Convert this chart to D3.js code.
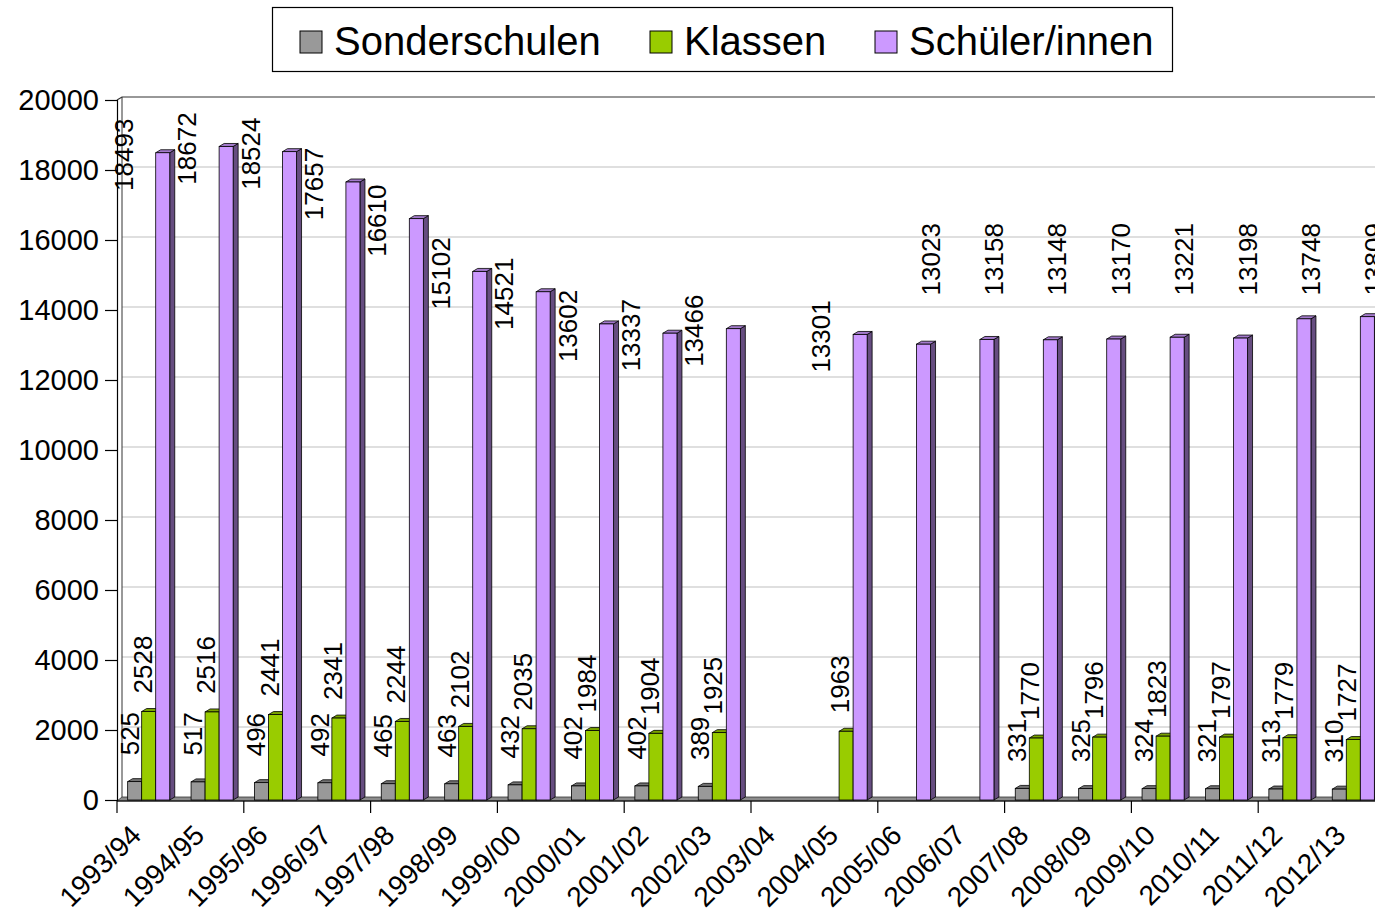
<!DOCTYPE html>
<html>
<head>
<meta charset="utf-8">
<script src="https://cdn.jsdelivr.net/npm/d3@7"></script>
<style>
  body { margin: 0; background: #fff; }
  svg { display: block; font-family: "Liberation Sans", Arial, sans-serif; }
</style>
</head>
<body>
<svg id="chart" width="1375" height="914"></svg>
<script>
// ------------------------------------------
// Data
// ------------------------------------------
const years = ["1993/94", "1994/95", "1995/96", "1996/97", "1997/98", "1998/99", "1999/00",
  "2000/01", "2001/02", "2002/03", "2003/04", "2004/05", "2005/06", "2006/07", "2007/08",
  "2008/09", "2009/10", "2010/11", "2011/12", "2012/13"]

const sonderschulen = [525, 517, 496, 492, 465, 463, 432, 402, 402, 389, null, null, null, null,
  331, 325, 324, 321, 313, 310]
const klassen = [2528, 2516, 2441, 2341, 2244, 2102, 2035, 1984, 1904, 1925, null, 1963, null, null,
  1770, 1796, 1823, 1797, 1779, 1727]
const schueler = [18493, 18672, 18524, 17657, 16610, 15102, 14521, 13602, 13337, 13466, null, 13301,
  13023, 13158, 13148, 13170, 13221, 13198, 13748, 13809]

const seriesNames = ["Sonderschulen", "Klassen", "Schüler/innen"]
const yTicks = [0, 2000, 4000, 6000, 8000, 10000, 12000, 14000, 16000, 18000, 20000]

// ------------------------------------------
// Styles
// ------------------------------------------
const colors = {
  "Sonderschulen": {front: "#999999", top: "#737373", side: "#4d4d4d"},
  "Klassen": {front: "#99cc00", top: "#7aa300", side: "#4d6600"},
  "Schüler/innen": {front: "#cc99ff", top: "#a37acc", side: "#664d80"}
}
const depth = {dx: 5, dy: -3}
const margin = {left: 117, top: 100, bottom: 800}
const step = 63.4

const svg = d3.select("#chart")

let x0 = d3.scaleBand()
  .domain(years)
  .range([margin.left, margin.left + step * years.length])
  .padding(0)

let x1 = d3.scaleBand()
  .domain(seriesNames)
  .range([0, x0.bandwidth()])
  .paddingInner(0)
  .paddingOuter(0.76)

let y = d3.scaleLinear().domain([0, 20000]).range([margin.bottom, margin.top])

const plotRight = x0.range()[1]

// back wall gridlines
svg.append("g")
  .selectAll("line")
  .data(yTicks.filter(v => v > 0 && v < 20000))
  .join("line")
  .attr("x1", margin.left + depth.dx)
  .attr("x2", plotRight + depth.dx)
  .attr("y1", d => y(d) + depth.dy)
  .attr("y2", d => y(d) + depth.dy)
  .attr("stroke", "#c0c0c0")
  .attr("stroke-width", 1.2)

// wall frame
svg.append("path")
  .attr("d", `M${margin.left},${y(20000)} L${margin.left + depth.dx},${y(20000) + depth.dy} L${plotRight + depth.dx},${y(20000) + depth.dy}`)
  .attr("fill", "none").attr("stroke", "#333").attr("stroke-width", 1.2)
svg.append("line")
  .attr("x1", margin.left + depth.dx).attr("x2", margin.left + depth.dx)
  .attr("y1", y(20000) + depth.dy).attr("y2", y(0) + depth.dy)
  .attr("stroke", "#333").attr("stroke-width", 1)

// floor
svg.append("path")
  .attr("d", `M${margin.left},${y(0) + 1} L${margin.left + depth.dx},${y(0) + depth.dy} L${plotRight + depth.dx},${y(0) + depth.dy} L${plotRight},${y(0) + 1} Z`)
  .attr("fill", "#8c8c8c").attr("stroke", "#333").attr("stroke-width", 0.8)

// ------------------------------------------
// Bars
// ------------------------------------------
const seriesValues = [sonderschulen, klassen, schueler]
let bars = []
years.forEach((year, i) => {
  seriesNames.forEach((name, s) => {
    let v = seriesValues[s][i]
    if (v !== null) bars.push({year, name, value: v, index: i})
  })
})

const barG = svg.append("g")
bars.forEach(b => {
  let bx = x0(b.year) + x1(b.name)
  let w = x1.bandwidth()
  let yt = y(b.value)
  let yb = y(0)
  let c = colors[b.name]
  let g = barG.append("g")
  g.append("path")
    .attr("d", `M${bx + w},${yt} L${bx + w + depth.dx},${yt + depth.dy} L${bx + w + depth.dx},${yb + depth.dy} L${bx + w},${yb} Z`)
    .attr("fill", c.side).attr("stroke", "#000").attr("stroke-width", 0.8)
  g.append("path")
    .attr("d", `M${bx},${yt} L${bx + depth.dx},${yt + depth.dy} L${bx + w + depth.dx},${yt + depth.dy} L${bx + w},${yt} Z`)
    .attr("fill", c.top).attr("stroke", "#000").attr("stroke-width", 0.8)
  g.append("rect")
    .attr("x", bx).attr("y", yt)
    .attr("width", w).attr("height", yb - yt)
    .attr("fill", c.front).attr("stroke", "#000").attr("stroke-width", 0.8)
})

// ------------------------------------------
// Data labels
// ------------------------------------------
function labelPosition(b) {
  let cx = x0(b.year) + x1(b.name) + x1.bandwidth() / 2
  if (b.name === "Sonderschulen") return [cx - 5, y(b.value) - 48]
  if (b.name === "Klassen") return [cx - 6, y(b.value) - 47]
  if (b.index >= 12) return [cx + 7, y(15450)]
  return [cx - 39, y(b.value) + 2]
}

svg.append("g")
  .selectAll("text")
  .data(bars)
  .join("text")
  .attr("transform", d => {
    let [lx, ly] = labelPosition(d)
    return `translate(${lx},${ly}) rotate(-90)`
  })
  .attr("text-anchor", "middle")
  .attr("dominant-baseline", "central")
  .attr("font-size", 26)
  .attr("fill", "#000")
  .text(d => d.value)

// ------------------------------------------
// Axes
// ------------------------------------------
let yAxisGroup = svg.append("g").attr("transform", `translate(${margin.left},0)`)
yAxisGroup.call(d3.axisLeft(y).tickValues(yTicks).tickSize(12).tickPadding(6).tickFormat(d3.format("d")))
yAxisGroup.select(".domain").attr("stroke", "#000").attr("stroke-width", 1.2)
yAxisGroup.selectAll(".tick line").attr("stroke", "#000").attr("stroke-width", 1.2)
yAxisGroup.selectAll(".tick text")
  .attr("font-size", 29).attr("font-family", "Liberation Sans, Arial, sans-serif").attr("fill", "#000")

// x axis: baseline with tick marks every second category
svg.append("line")
  .attr("x1", margin.left).attr("x2", plotRight)
  .attr("y1", y(0) + 1).attr("y2", y(0) + 1)
  .attr("stroke", "#000").attr("stroke-width", 1)
svg.append("g")
  .selectAll("line")
  .data(years.filter((d, i) => i % 2 === 0))
  .join("line")
  .attr("x1", d => x0(d)).attr("x2", d => x0(d))
  .attr("y1", y(0) + 1).attr("y2", y(0) + 13)
  .attr("stroke", "#000").attr("stroke-width", 1.2)

svg.append("g")
  .selectAll("text")
  .data(years)
  .join("text")
  .attr("transform", d => `translate(${x0(d) + x0.bandwidth() / 2 - 6},${y(0) + 37}) rotate(-45)`)
  .attr("text-anchor", "end")
  .attr("font-size", 28)
  .attr("fill", "#000")
  .text(d => d)

// ------------------------------------------
// Legend
// ------------------------------------------
const legendX = [300, 650, 875]
let legend = svg.append("g")
legend.append("rect")
  .attr("x", 272.5).attr("y", 7.5).attr("width", 900).attr("height", 64)
  .attr("fill", "#fff").attr("stroke", "#000").attr("stroke-width", 1.2)
seriesNames.forEach((name, i) => {
  legend.append("rect")
    .attr("x", legendX[i]).attr("y", 31).attr("width", 22).attr("height", 22)
    .attr("fill", colors[name].front).attr("stroke", "#000").attr("stroke-width", 1)
  legend.append("text")
    .attr("x", legendX[i] + 34).attr("y", 55)
    .attr("font-size", 40).attr("fill", "#000")
    .text(name)
})
</script>
</body>
</html>
